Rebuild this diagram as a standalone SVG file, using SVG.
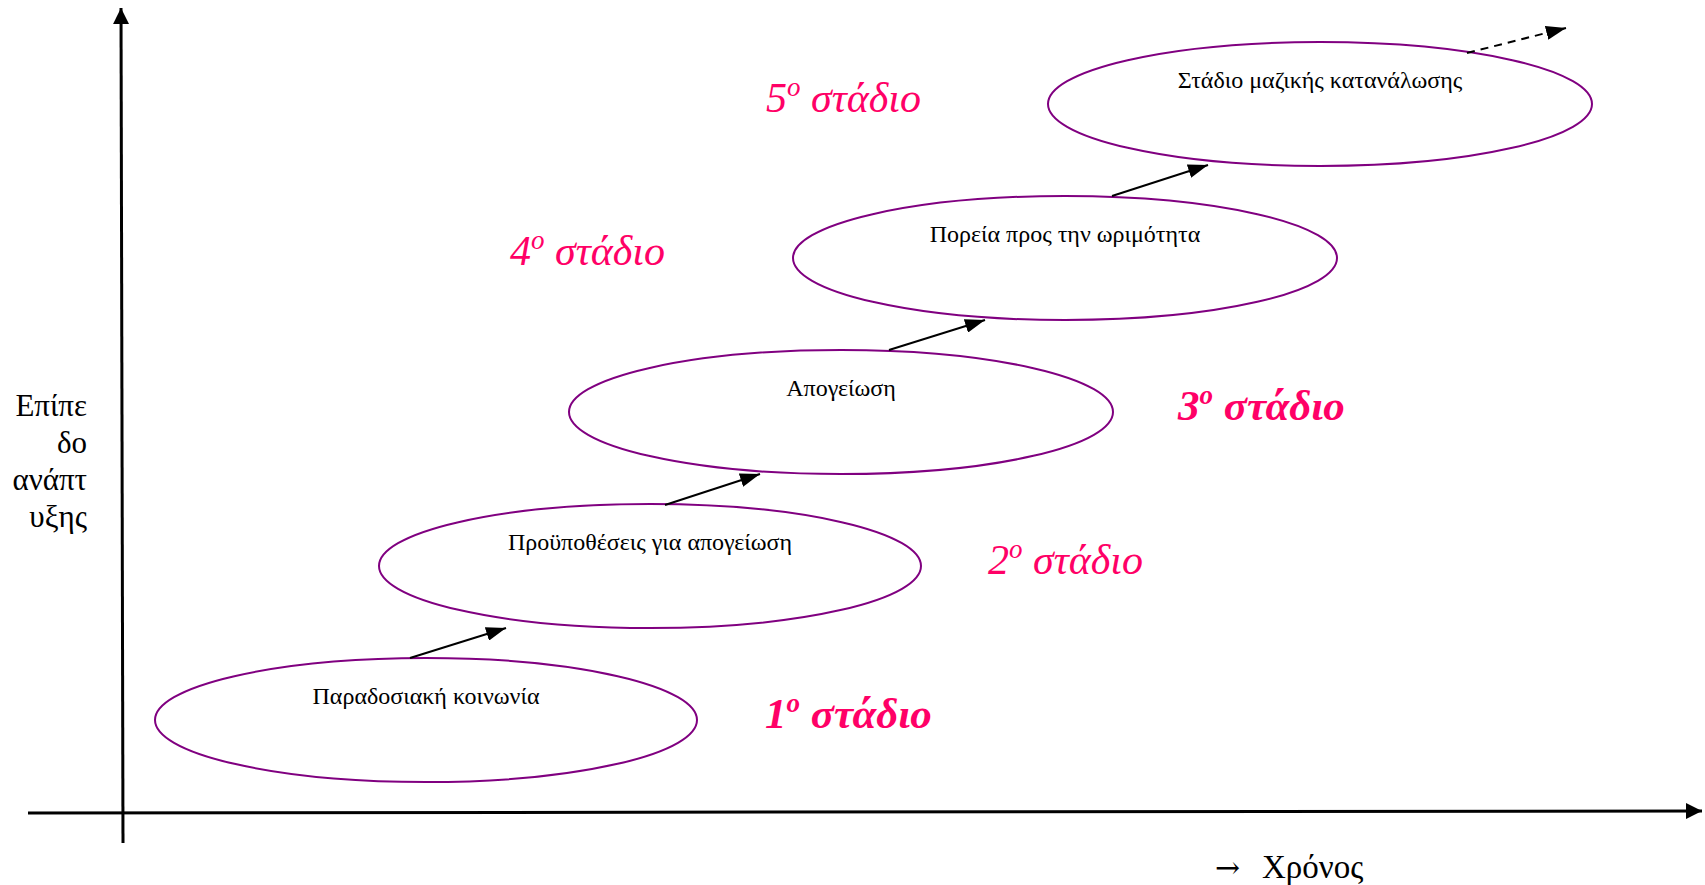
<svg xmlns="http://www.w3.org/2000/svg" width="1705" height="885" viewBox="0 0 1705 885">
<style>
.node ellipse{fill:none;stroke:#800080;stroke-width:2}
.lbl{font-family:"Liberation Serif","Times New Roman",serif;font-size:24px;fill:#000;text-anchor:middle}
.stage{font-family:"Liberation Serif","Times New Roman",serif;font-size:42px;fill:#FF0066;font-style:italic}
.bold{font-weight:bold;font-size:43px}
.axl{font-family:"Liberation Serif","Times New Roman",serif;font-size:31px;fill:#000}
.conn{stroke:#000;stroke-width:2;fill:none}
.axis{stroke:#000;stroke-width:3;fill:none}
</style>
<defs>
<marker id="ax" markerUnits="userSpaceOnUse" markerWidth="16" markerHeight="16" refX="16" refY="8" orient="auto"><path d="M0,0 L16,8 L0,16 z" fill="#000"/></marker>
<marker id="ar" markerUnits="userSpaceOnUse" markerWidth="20" markerHeight="14" refX="20" refY="7" orient="auto"><path d="M0,0 L20,7 L0,14 z" fill="#000"/></marker>
</defs>
<rect width="1705" height="885" fill="#fff"/>
<g id="axes">
<line class="axis" x1="123" y1="843" x2="121" y2="8" marker-end="url(#ax)"/>
<line class="axis" x1="28" y1="813" x2="1702" y2="811" marker-end="url(#ax)"/>
</g>
<g id="ylabel">
<text class="axl" text-anchor="end" x="87" y="416">Επίπε</text>
<text class="axl" text-anchor="end" x="87" y="453">δο</text>
<text class="axl" text-anchor="end" x="87" y="490">ανάπτ</text>
<text class="axl" text-anchor="end" x="87" y="527">υξης</text>
</g>
<g id="xlabel"><text class="axl" x="1215" y="878"><tspan font-family="DejaVu Serif" font-size="30">→</tspan><tspan x="1262" font-size="33">Χρόνος</tspan></text></g>
<g id="n1" class="node"><ellipse cx="426" cy="720" rx="271" ry="62"/><text class="lbl" x="426" y="704">Παραδοσιακή κοινωνία</text></g>
<g id="n2" class="node"><ellipse cx="650" cy="566" rx="271" ry="62"/><text class="lbl" x="650" y="550">Προϋποθέσεις για απογείωση</text></g>
<g id="n3" class="node"><ellipse cx="841" cy="412" rx="272" ry="62"/><text class="lbl" x="841" y="396">Απογείωση</text></g>
<g id="n4" class="node"><ellipse cx="1065" cy="258" rx="272" ry="62"/><text class="lbl" x="1065" y="242">Πορεία προς την ωριμότητα</text></g>
<g id="n5" class="node"><ellipse cx="1320" cy="104" rx="272" ry="62"/><text class="lbl" x="1320" y="88">Στάδιο μαζικής κατανάλωσης</text></g>
<g id="connectors">
<line class="conn" x1="410" y1="658" x2="506" y2="628" marker-end="url(#ar)"/>
<line class="conn" x1="665" y1="505" x2="760" y2="474" marker-end="url(#ar)"/>
<line class="conn" x1="889" y1="350" x2="985" y2="320" marker-end="url(#ar)"/>
<line class="conn" x1="1112" y1="196" x2="1208" y2="165" marker-end="url(#ar)"/>
<line class="conn" x1="1467" y1="53" x2="1566" y2="28" stroke-dasharray="8,6" marker-end="url(#ar)"/>
</g>
<g id="stages">
<text class="stage" x="766" y="112">5<tspan font-size="27" dy="-16">ο</tspan><tspan dy="16"> στάδιο</tspan></text>
<text class="stage" x="510" y="265">4<tspan font-size="27" dy="-16">ο</tspan><tspan dy="16"> στάδιο</tspan></text>
<text class="stage bold" x="1178" y="420">3<tspan font-size="27" dy="-16">ο</tspan><tspan dy="16"> στάδιο</tspan></text>
<text class="stage" x="988" y="574">2<tspan font-size="27" dy="-16">ο</tspan><tspan dy="16"> στάδιο</tspan></text>
<text class="stage bold" x="765" y="728">1<tspan font-size="27" dy="-16">ο</tspan><tspan dy="16"> στάδιο</tspan></text>
</g>
</svg>
